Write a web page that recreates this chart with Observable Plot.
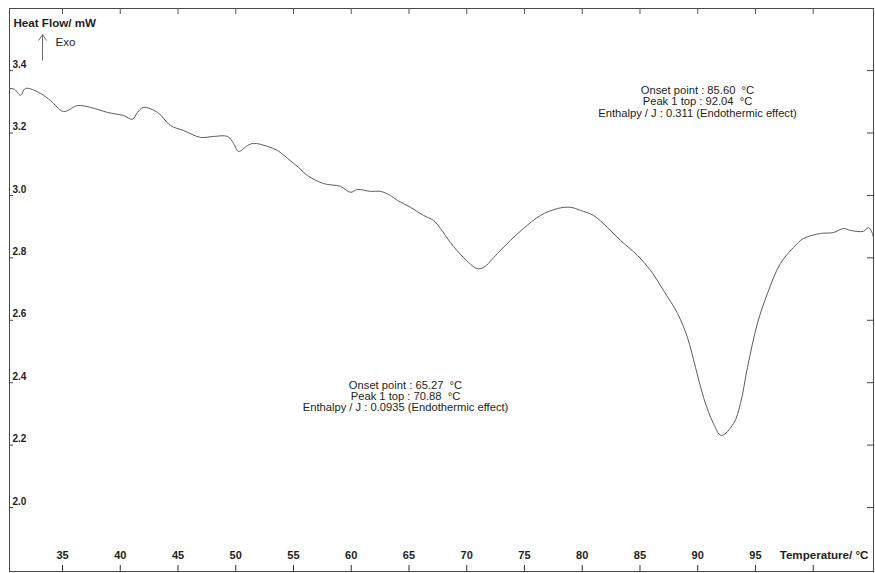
<!DOCTYPE html>
<html>
<head>
<meta charset="utf-8">
<script src="https://cdn.jsdelivr.net/npm/d3@7"></script>
<script src="https://cdn.jsdelivr.net/npm/@observablehq/plot@0.6"></script>
<style>
  html, body { margin: 0; padding: 0; background: #ffffff; }
  #chart svg { display: block; }
</style>
</head>
<body>
<div id="chart"></div>
<script>
// DSC trace: heat flow (mW) against sample temperature (°C)
const temperature = [
  30.41, 30.84, 31.36, 31.80, 33.10, 33.96, 35.09, 36.30, 37.42, 38.90,
  40.28, 41.06, 41.49, 42.01, 43.23, 44.35, 45.48, 46.95, 48.07, 49.29,
  49.81, 50.24, 51.02, 51.54, 52.75, 53.61, 54.48, 55.43, 56.21, 57.60,
  59.07, 59.94, 60.54, 61.67, 62.53, 63.40, 64.00, 65.13, 66.26, 67.12,
  67.73, 68.59, 69.72, 70.88, 71.45, 72.66, 73.79, 74.91, 76.39, 77.86,
  78.98, 79.85, 80.97, 82.19, 83.31, 84.78, 85.91, 87.03, 88.25, 89.11,
  89.81, 90.50, 91.36, 92.04, 93.10, 93.70, 94.31, 95.17, 96.04, 97.16,
  98.29, 99.16, 100.63, 101.75, 102.62, 103.23, 104.35, 104.78, 105.13, 105.22
];
const heatFlow = [
  3.343, 3.340, 3.321, 3.343, 3.327, 3.304, 3.269, 3.288, 3.282, 3.266,
  3.256, 3.244, 3.266, 3.282, 3.266, 3.224, 3.208, 3.186, 3.189, 3.189,
  3.167, 3.141, 3.160, 3.167, 3.157, 3.144, 3.119, 3.090, 3.064, 3.038,
  3.029, 3.010, 3.019, 3.013, 3.013, 3.000, 2.984, 2.962, 2.936, 2.920,
  2.894, 2.849, 2.801, 2.766, 2.769, 2.814, 2.856, 2.894, 2.936, 2.958,
  2.962, 2.952, 2.936, 2.897, 2.856, 2.808, 2.760, 2.696, 2.622, 2.545,
  2.449, 2.353, 2.269, 2.231, 2.269, 2.333, 2.449, 2.590, 2.686, 2.782,
  2.833, 2.862, 2.878, 2.881, 2.894, 2.888, 2.885, 2.897, 2.878, 2.862
];

// Axis ticks
const xTicks = [35, 40, 45, 50, 55, 60, 65, 70, 75, 80, 85, 90, 95, 100];
const xTickLabels = ["35", "40", "45", "50", "55", "60", "65", "70", "75", "80", "85", "90", "95", ""];
const yTicks = [2.0, 2.2, 2.4, 2.6, 2.8, 3.0, 3.2, 3.4];
const yTickLabels = ["2.0", "2.2", "2.4", "2.6", "2.8", "3.0", "3.2", "3.4"];

// Peak evaluation results
const peakLabelT = [64.70, 89.98];
const peakLabelHF = [2.356, 3.300];
const peakTexts = [
  "Onset point : 65.27  °C\nPeak 1 top : 70.88  °C\nEnthalpy / J : 0.0935 (Endothermic effect)",
  "Onset point : 85.60  °C\nPeak 1 top : 92.04  °C\nEnthalpy / J : 0.311 (Endothermic effect)"
];

// Exothermic direction marker
const exoArrowT = [33.27];
const exoArrowFrom = [3.433];
const exoArrowTo = [3.515];

const xDomain = [30.41, 105.22];
const yDomain = [1.795, 3.599];

const trace = temperature.map((t, i) => ({t, hf: heatFlow[i]}));
const peaks = peakTexts.map((text, i) => ({t: peakLabelT[i], hf: peakLabelHF[i], text}));
const exo = exoArrowT.map((t, i) => ({t, y1: exoArrowFrom[i], y2: exoArrowTo[i]}));
const xTickRows = xTicks.map((v, i) => ({v, label: xTickLabels[i]}));
const yTickRows = yTicks.map((v, i) => ({v, label: yTickLabels[i]}));

const W = 875, H = 573;
const mL = 9, mR = 2, mT = 8, mB = 2;
const innerW = W - mL - mR, innerH = H - mT - mB;
const ink = "#1e1e1e";
const font = "'Liberation Sans', Arial, sans-serif";

const chart = Plot.plot({
  width: W,
  height: H,
  marginLeft: mL,
  marginRight: mR,
  marginTop: mT,
  marginBottom: mB,
  style: {fontFamily: font, background: "#ffffff", color: ink},
  x: {domain: xDomain, axis: null},
  y: {domain: yDomain, axis: null},
  marks: [
    Plot.frame({stroke: "#4a4a4a", strokeWidth: 1}),
    // inward ticks on all four sides
    Plot.tickX(xTicks, {x: d => d, insetTop: innerH - 6, stroke: "#333"}),
    Plot.tickX(xTicks, {x: d => d, insetBottom: innerH - 6, stroke: "#555"}),
    Plot.tickY(yTicks, {y: d => d, insetRight: innerW - 4, stroke: "#444"}),
    Plot.tickY(yTicks, {y: d => d, insetLeft: innerW - 6, stroke: "#444"}),
    // tick labels
    Plot.text(xTickRows, {
      x: "v", text: "label", frameAnchor: "bottom", dy: -13,
      fontSize: 11, fontWeight: "bold", fill: ink
    }),
    Plot.text(yTickRows, {
      y: "v", text: "label", frameAnchor: "left", textAnchor: "start",
      dx: 3, dy: -6, fontSize: 10, fontWeight: "bold", fill: ink
    }),
    // axis titles
    Plot.text(["Heat Flow/ mW"], {
      frameAnchor: "top-left", textAnchor: "start", lineAnchor: "top",
      dx: 4, dy: 10, fontSize: 11.6, fontWeight: "bold", fill: ink
    }),
    Plot.text(["Exo"], {
      frameAnchor: "top-left", textAnchor: "start", lineAnchor: "top",
      dx: 46, dy: 29, fontSize: 11.5, fill: ink
    }),
    Plot.arrow(exo, {
      x: "t", y1: "y1", y2: "y2", stroke: "#6a6a6a", strokeWidth: 1,
      headLength: 10, headAngle: 70
    }),
    Plot.text(["Temperature/ °C"], {
      frameAnchor: "bottom-right", textAnchor: "end",
      dx: -5, dy: -13, fontSize: 11.6, fontWeight: "bold", fill: ink
    }),
    // heat-flow trace
    Plot.line(trace, {
      x: "t", y: "hf", stroke: "#5c5c5c", strokeWidth: 1, curve: "catmull-rom"
    }),
    // peak annotations
    Plot.text(peaks, {
      x: "t", y: "hf", text: "text", lineHeight: 1.0,
      fontSize: 11.2, fill: ink
    })
  ]
});

document.getElementById("chart").appendChild(chart);
</script>
</body>
</html>
